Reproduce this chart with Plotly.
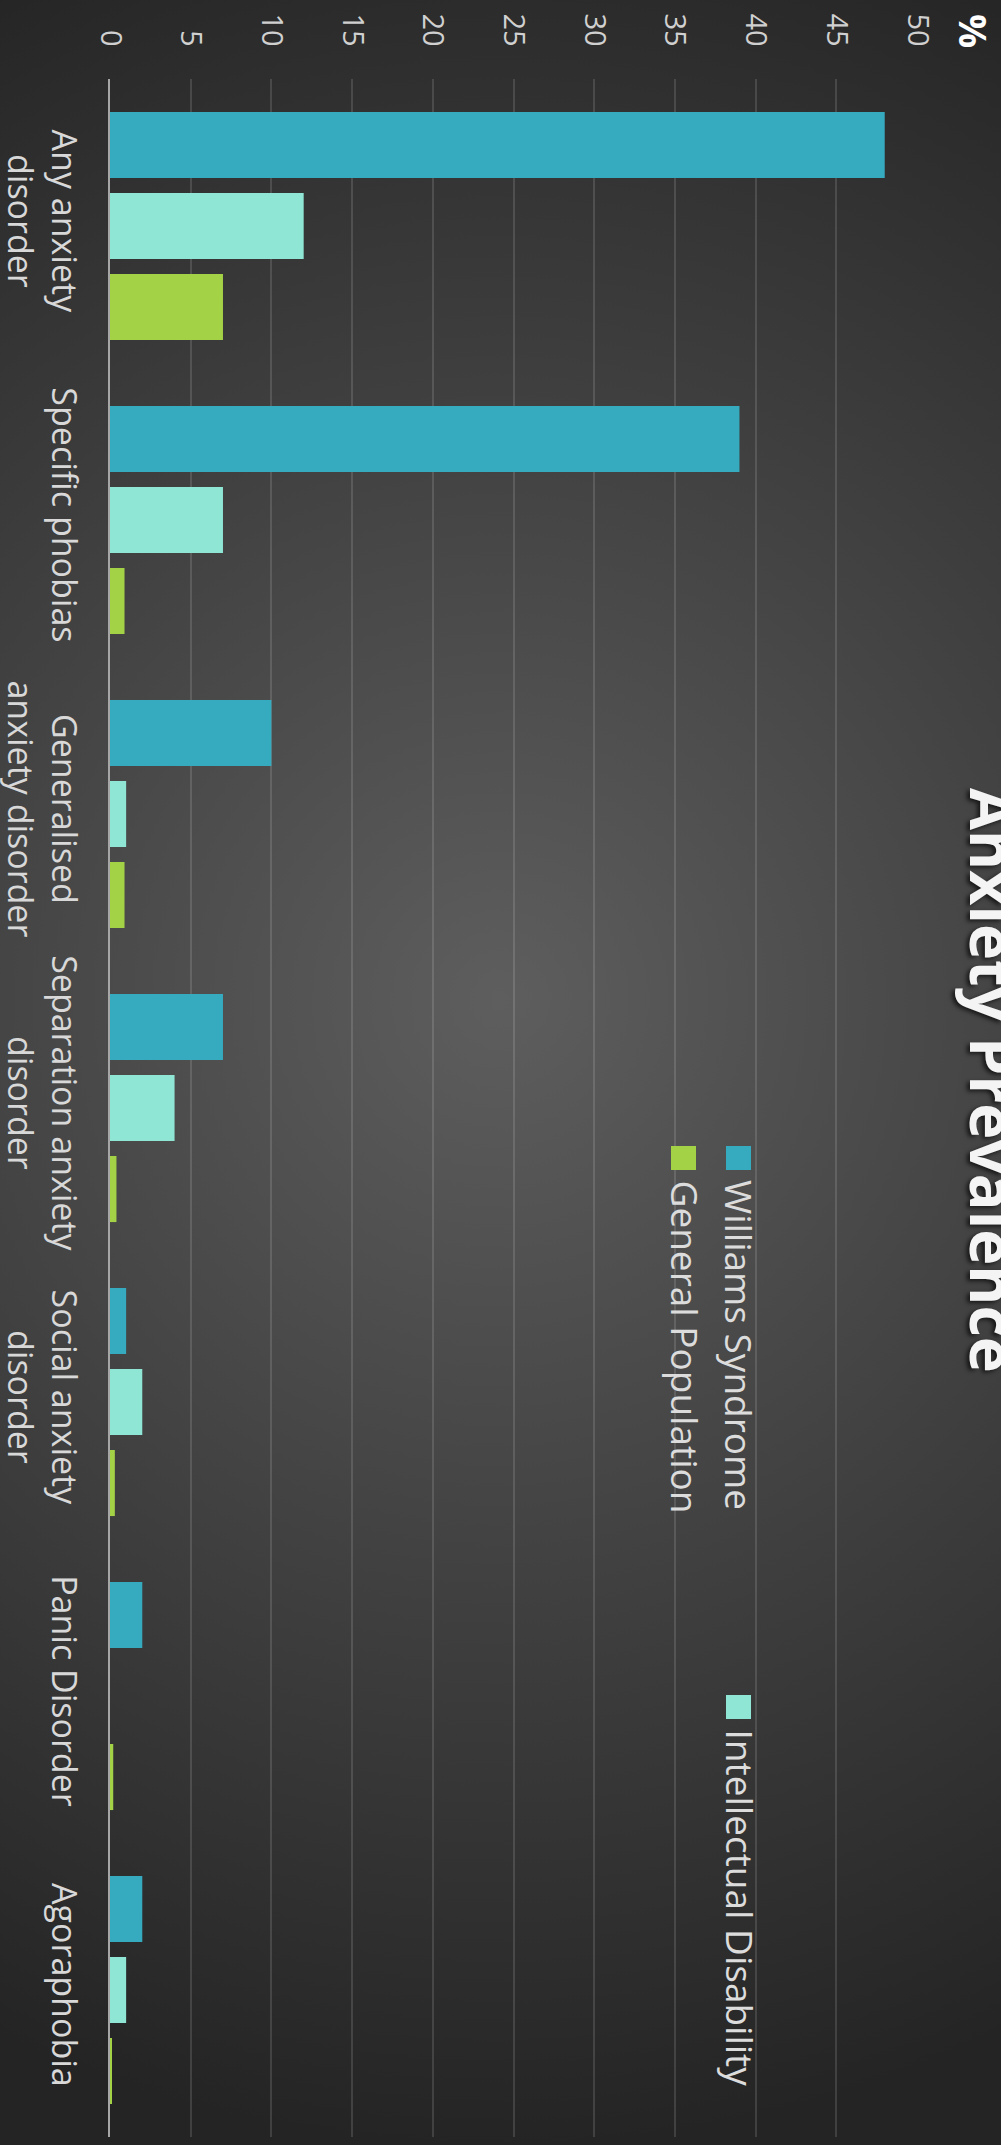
import base64
import plotly.graph_objects as go

# Anxiety prevalence (%) by disorder, three populations
categories = [
    "Any anxiety<br>disorder",
    "Specific phobias",
    "Generalised<br>anxiety disorder",
    "Separation anxiety<br>disorder",
    "Social anxiety<br>disorder",
    "Panic Disorder",
    "Agoraphobia",
]
series_names = ["Williams Syndrome", "Intellectual Disability", "General Population"]
williams = [48, 39, 10, 7, 1, 2, 2]
intellectual = [12, 7, 1, 4, 2, 0, 1]
general = [7, 0.9, 0.9, 0.4, 0.3, 0.2, 0.1]
value_ticks = [0, 5, 10, 15, 20, 25, 30, 35, 40, 45, 50]

colors = ["#36abc0", "#90e6d4", "#a4d246"]

W, H = 1001, 2145
ML, MR, MT, MB = 110, 84, 79, 8
PW, PH = W - ML - MR, H - MT - MB


def px_x(px):
    return (px - ML) / PW


def px_y(py):
    return (H - MB - py) / PH


fig = go.Figure()
for name, vals, col in zip(series_names, [williams, intellectual, general], colors):
    fig.add_trace(go.Bar(
        x=vals, y=categories, name=name, orientation="h",
        marker=dict(color=col, line=dict(width=0)),
        showlegend=False,
    ))

# radial background
svg = (
    f"<svg xmlns='http://www.w3.org/2000/svg' width='{W}' height='{H}'>"
    "<defs><radialGradient id='g' gradientUnits='userSpaceOnUse' cx='500' cy='1000' r='1150'>"
    "<stop offset='0' stop-color='#5e5e5e'/><stop offset='1' stop-color='#242424'/>"
    "</radialGradient></defs>"
    f"<rect width='{W}' height='{H}' fill='url(#g)'/></svg>"
)
bg_uri = "data:image/svg+xml;base64," + base64.b64encode(svg.encode()).decode()

font_family = "Open Sans, DejaVu Sans, sans-serif"

annotations = [
    dict(text="Anxiety Prevalence", textangle=90, showarrow=False,
         xref="paper", yref="paper", x=px_x(994), y=px_y(1080),
         xanchor="center", yanchor="middle",
         font=dict(family=font_family, size=61, color="#f4f4f4", weight=700,
                   shadow="2px 3px 4px rgba(0,0,0,0.65)")),
    dict(text="%", textangle=90, showarrow=False,
         xref="paper", yref="paper", x=px_x(974), y=px_y(31),
         xanchor="center", yanchor="middle",
         font=dict(family=font_family, size=38, color="#ffffff", weight=700)),
]

# legend entries: (label, colour, square x0, square y0, text centre x)
legend_items = [
    (series_names[0], colors[0], 726, 1146, 740),
    (series_names[1], colors[1], 726, 1695, 740),
    (series_names[2], colors[2], 671, 1146, 685),
]
shapes = []
for label, col, sx, sy, tx in legend_items:
    shapes.append(dict(type="rect", xref="paper", yref="paper",
                       x0=px_x(sx), x1=px_x(sx + 25), y0=px_y(sy), y1=px_y(sy + 24),
                       fillcolor=col, line=dict(width=0), layer="above"))
    annotations.append(dict(text=label, textangle=90, showarrow=False,
                            xref="paper", yref="paper", x=px_x(tx), y=px_y(sy + 32),
                            xanchor="center", yanchor="top",
                            font=dict(family=font_family, size=37, color="#dcdcdc")))

fig.update_layout(
    width=W, height=H,
    margin=dict(l=ML, r=MR, t=MT, b=MB, autoexpand=False),
    paper_bgcolor="#2b2b2b",
    plot_bgcolor="rgba(0,0,0,0)",
    barmode="group",
    bargap=0.173,
    bargroupgap=0.185,
    font=dict(family=font_family, color="#d8d8d8"),
    images=[dict(source=bg_uri, xref="paper", yref="paper",
                 x=px_x(0), y=px_y(0), sizex=W / PW, sizey=H / PH,
                 xanchor="left", yanchor="top", sizing="stretch", layer="below")],
    annotations=annotations,
    shapes=shapes,
    xaxis=dict(
        side="top", range=[0, 50], tickvals=value_ticks,
        ticktext=[str(v) for v in value_ticks],
        tickangle=90, tickfont=dict(size=29, color="#d0d0d0"),
        ticklabelstandoff=27, automargin=False,
        showgrid=True, gridcolor="rgba(255,255,255,0.13)", gridwidth=1.5,
        zeroline=False, showline=False, ticks="",
    ),
    yaxis=dict(
        type="category", autorange="reversed",
        tickangle=90, tickfont=dict(size=34, color="#d8d8d8"),
        ticklabelstandoff=15, automargin=False,
        showline=True, linecolor="#a6a6a6", linewidth=2,
        showgrid=False, zeroline=False, ticks="",
    ),
)

fig.write_html("out.html")
